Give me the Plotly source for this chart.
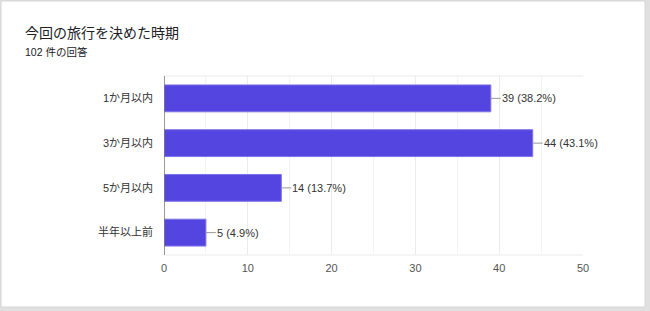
import plotly.graph_objects as go

categories = ["1か月以内", "3か月以内", "5か月以内", "半年以上前"]
values = [39, 44, 14, 5]
labels = ["39 (38.2%)", "44 (43.1%)", "14 (13.7%)", "5 (4.9%)"]
title = "今回の旅行を決めた時期"
subtitle = "102 件の回答"

W, H = 650, 311
L, R, T, B = 164, 67, 76, 56
pw, ph = W - L - R, H - T - B

def px_x(p):
    return (p - L) / pw

def px_y(p):
    return (H - B - p) / ph

FONT = "Arial, 'Liberation Sans', 'Noto Sans CJK JP', sans-serif"

fig = go.Figure(go.Bar(
    x=values, y=categories, orientation="h", width=0.6,
    marker=dict(color="#5545e0", line=dict(color="#7f73ea", width=1)),
    hoverinfo="skip",
))

for v, c, t in zip(values, categories, labels):
    fig.add_annotation(x=v, y=c, xref="x", yref="y", text=t, showarrow=True,
                       arrowhead=0, arrowwidth=1, arrowcolor="#999999",
                       ax=10, ay=0, xanchor="left", standoff=0, startstandoff=0,
                       borderpad=0,
                       font=dict(family=FONT, size=11, color="#333333"))

fig.add_annotation(x=px_x(23), y=px_y(33), xref="paper", yref="paper", text=title,
                   showarrow=False, xanchor="left", yanchor="middle",
                   font=dict(family=FONT, size=14, color="#202124"))
fig.add_annotation(x=px_x(23), y=px_y(52), xref="paper", yref="paper", text=subtitle,
                   showarrow=False, xanchor="left", yanchor="middle",
                   font=dict(family=FONT, size=10.5, color="#202124"))

fig.add_shape(type="rect", xref="paper", yref="paper", layer="below",
              x0=px_x(1), x1=px_x(645), y0=px_y(1), y1=px_y(307),
              fillcolor="white", line=dict(color="#d5d5d5", width=1))

fig.update_layout(
    width=W, height=H, margin=dict(l=L, r=R, t=T, b=B),
    paper_bgcolor="#e0e0e0", plot_bgcolor="rgba(0,0,0,0)",
    showlegend=False, bargap=0.4,
    font=dict(family=FONT, size=11, color="#444444"),
    xaxis=dict(range=[0, 50], dtick=10, showgrid=True, gridcolor="#ebebeb",
               minor=dict(dtick=5, showgrid=True, gridcolor="#f3f3f3"),
               zeroline=False, showline=False, ticks="", ticklabelstandoff=5,
               tickfont=dict(size=11, color="#555555"), mirror=False),
    yaxis=dict(autorange="reversed", showgrid=False, zeroline=False,
               ticks="", ticklabelstandoff=10,
               tickfont=dict(size=11, color="#333333")),
)
fig.add_shape(type="line", xref="paper", yref="paper", x0=0, x1=1, y0=1, y1=1,
              line=dict(color="#ebebeb", width=1), layer="below")
fig.add_shape(type="line", xref="paper", yref="paper", x0=0, x1=1, y0=0, y1=0,
              line=dict(color="#ebebeb", width=1), layer="below")
fig.add_shape(type="line", xref="x", yref="paper", x0=0, x1=0, y0=0, y1=1,
              line=dict(color="#777777", width=1.5), layer="above")

fig.write_html("out.html")
